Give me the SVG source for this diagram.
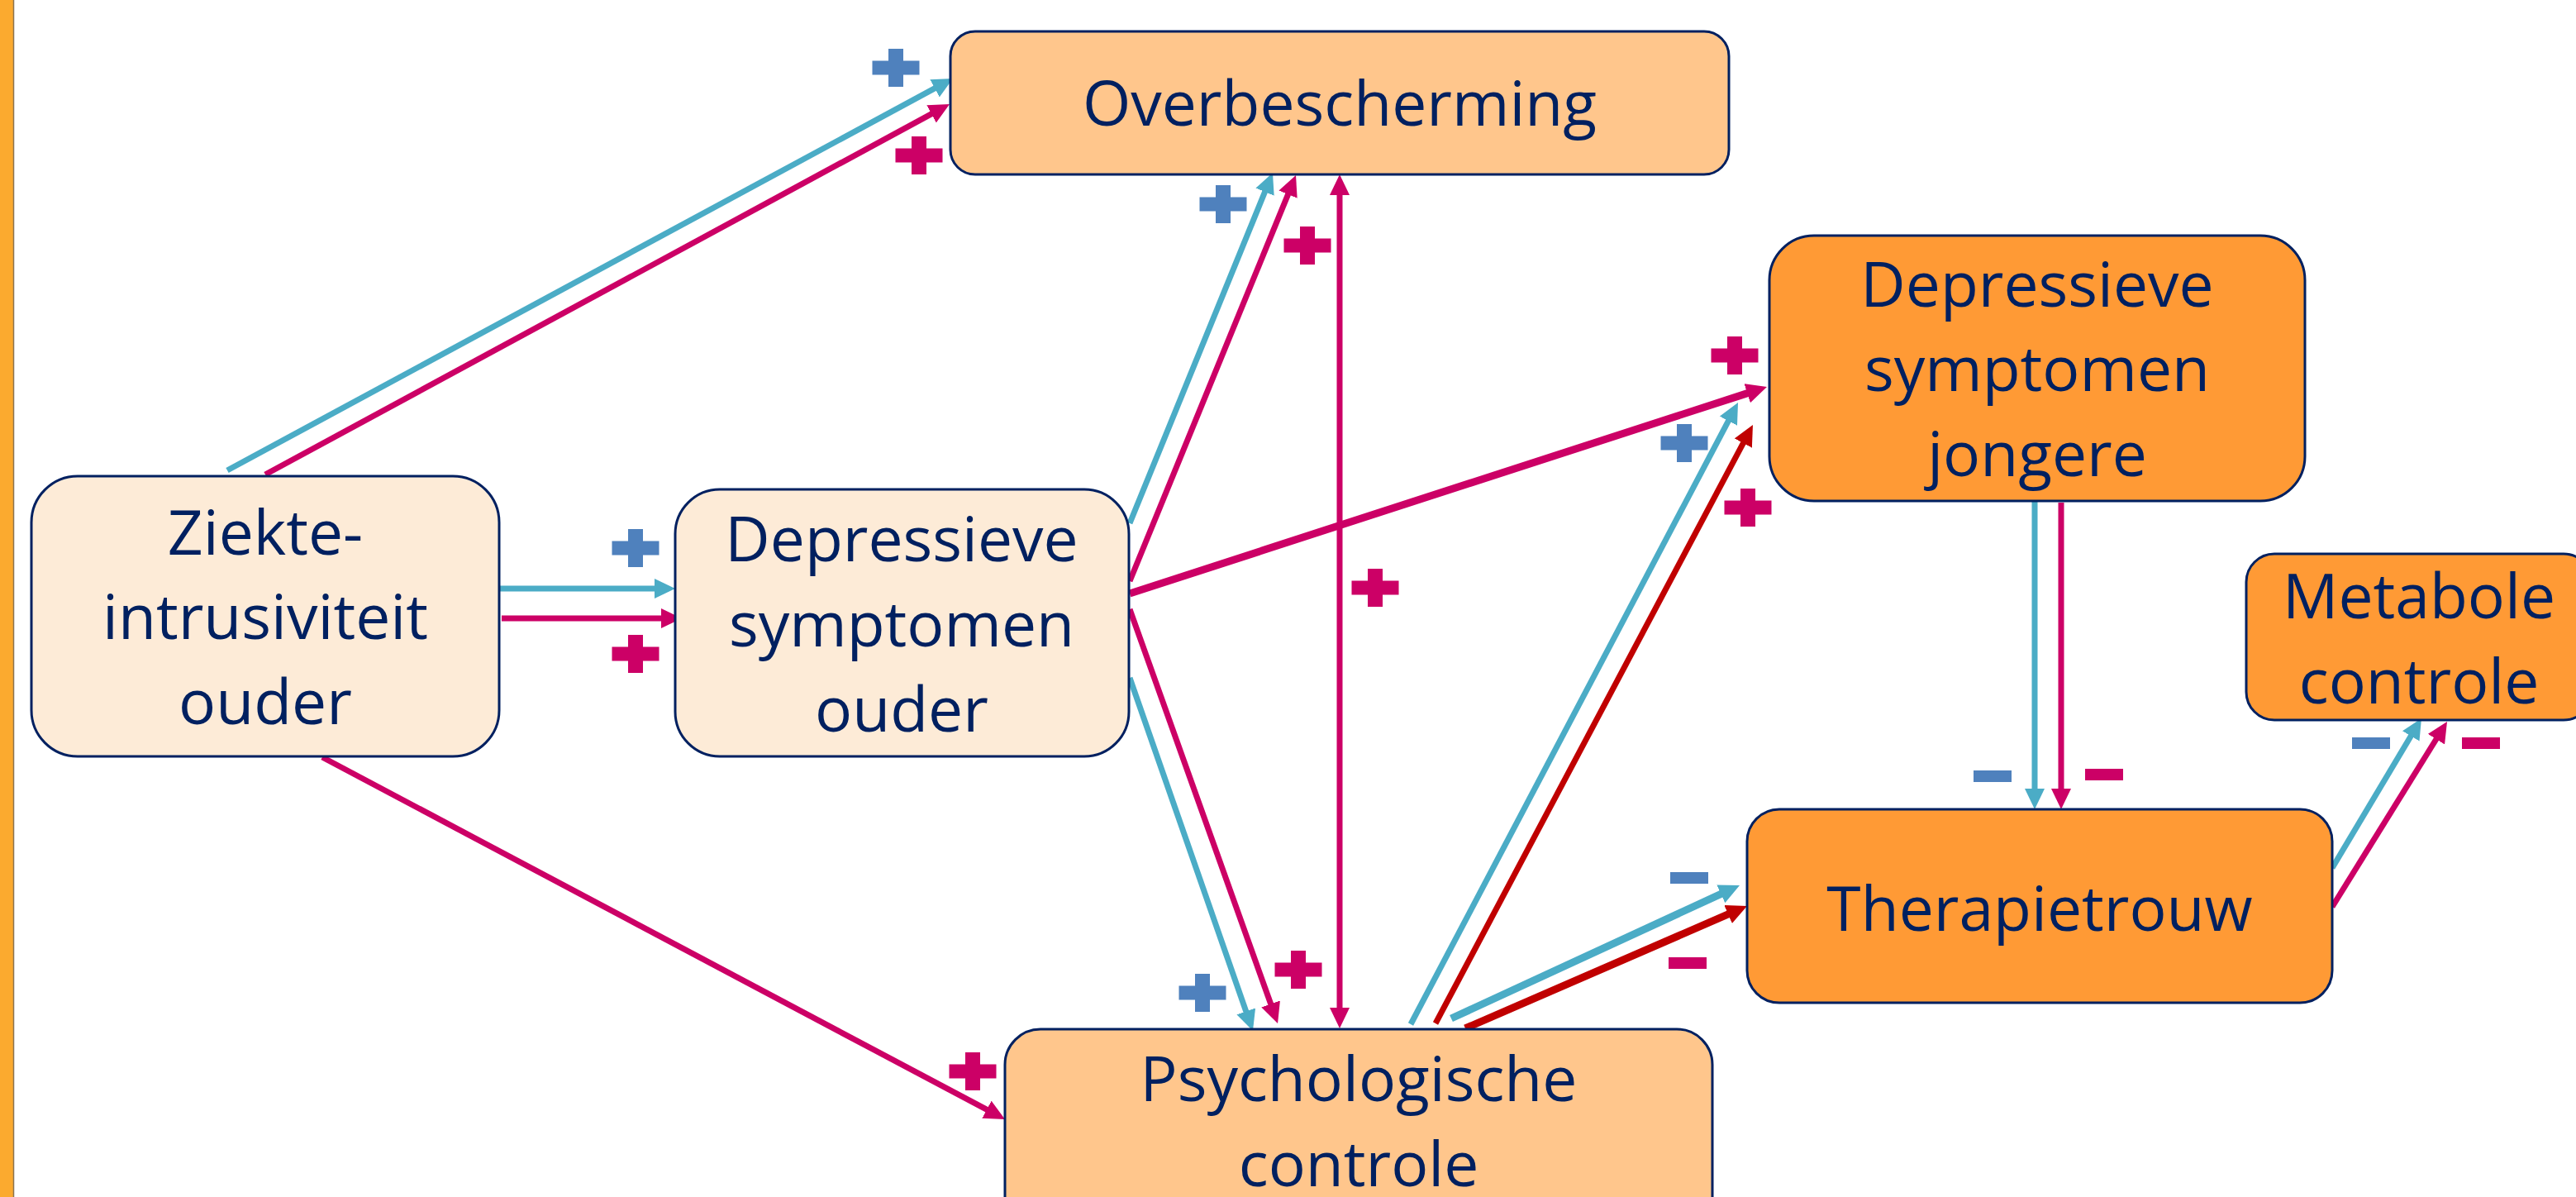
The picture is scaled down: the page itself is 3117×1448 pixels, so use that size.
<svg xmlns="http://www.w3.org/2000/svg" width="3117" height="1448" viewBox="0 0 3117 1448">
<style>
.box{stroke:#002060;stroke-width:3}
.l1{fill:#FDEBD7}
.l2{fill:#FFC68C}
.l3{fill:#FF9A35}
.t{font-family:"Open Sans","Noto Sans","Liberation Sans",sans-serif;font-size:75px;fill:#002060;text-anchor:middle}
.c{fill:none;stroke-linecap:butt}
.teal{stroke:#4BACC6}
.mag{stroke:#CC0066}
.red{stroke:#C00000}
.w7{stroke-width:7}
.w9{stroke-width:9}
.pb{fill:#4F81BD}
.pm{fill:#CC0066}
</style>
<defs>
<marker id="aT" markerUnits="userSpaceOnUse" markerWidth="30" markerHeight="30" refX="2" refY="12" orient="auto"><path d="M0,0 L25,12 L0,24 z" fill="#4BACC6"/></marker>
<marker id="aM" markerUnits="userSpaceOnUse" markerWidth="30" markerHeight="30" refX="2" refY="12" orient="auto"><path d="M0,0 L25,12 L0,24 z" fill="#CC0066"/></marker>
<marker id="aMs" markerUnits="userSpaceOnUse" markerWidth="30" markerHeight="30" refX="2" refY="12" orient="auto-start-reverse"><path d="M0,0 L25,12 L0,24 z" fill="#CC0066"/></marker>
<marker id="aR" markerUnits="userSpaceOnUse" markerWidth="30" markerHeight="30" refX="2" refY="12" orient="auto"><path d="M0,0 L25,12 L0,24 z" fill="#C00000"/></marker>
<path id="plus" d="M-9,-23h18v14.5h19.5v17h-19.5v14.5h-18v-14.5h-19.5v-17h19.5z"/>
</defs>
<rect x="0" y="0" width="3117" height="1448" fill="#FFFFFF"/>
<rect x="0" y="0" width="16" height="1448" fill="#FBAA2F"/>
<line x1="16.5" y1="0" x2="16.5" y2="1448" stroke="#8a7350" stroke-width="1.5"/>

<g id="connectors">
<line class="c teal w7" x1="275" y1="569" x2="1132.8" y2="105.9" marker-end="url(#aT)"/>
<line class="c mag w7" x1="321" y1="574" x2="1128.8" y2="136.9" marker-end="url(#aM)"/>
<line class="c teal w7" x1="604" y1="712" x2="794" y2="712" marker-end="url(#aT)"/>
<line class="c mag w7" x1="607" y1="748" x2="802" y2="748" marker-end="url(#aM)"/>
<line class="c mag w7" x1="390" y1="916" x2="1195.7" y2="1343.2" marker-end="url(#aM)"/>
<line class="c teal w7" x1="1367" y1="633" x2="1531.3" y2="230.3" marker-end="url(#aT)"/>
<line class="c mag w7" x1="1367" y1="703" x2="1559.3" y2="233.3" marker-end="url(#aM)"/>
<line class="c mag w7" x1="1621" y1="1221" x2="1621" y2="234" marker-start="url(#aMs)" marker-end="url(#aMs)"/>
<line class="c mag w9" x1="1367" y1="718" x2="2116.1" y2="475.1" marker-end="url(#aM)"/>
<line class="c teal w7" x1="1367" y1="820" x2="1508.4" y2="1225.3" marker-end="url(#aT)"/>
<line class="c mag w7" x1="1367" y1="737" x2="1538.3" y2="1216.3" marker-end="url(#aM)"/>
<line class="c teal w7" x1="1707" y1="1239" x2="2092.3" y2="507.4" marker-end="url(#aT)"/>
<line class="c red w7" x1="1737" y1="1238" x2="2110.2" y2="534.3" marker-end="url(#aR)"/>
<line class="c teal w9" x1="1756" y1="1232" x2="2084.1" y2="1080.6" marker-end="url(#aT)"/>
<line class="c red w9" x1="1773" y1="1244" x2="2092.9" y2="1105.2" marker-end="url(#aR)"/>
<line class="c teal w7" x1="2462" y1="606" x2="2462" y2="956" marker-end="url(#aT)"/>
<line class="c mag w7" x1="2494" y1="608" x2="2494" y2="956" marker-end="url(#aM)"/>
<line class="c teal w7" x1="2822" y1="1050" x2="2918.2" y2="888.7" marker-end="url(#aT)"/>
<line class="c mag w7" x1="2822" y1="1097" x2="2948.9" y2="892.5" marker-end="url(#aM)"/>
</g>

<g id="signs">
<use href="#plus" class="pb" x="1084" y="82"/>
<use href="#plus" class="pm" x="1112" y="188"/>
<use href="#plus" class="pb" x="769" y="663"/>
<use href="#plus" class="pm" x="769" y="791"/>
<use href="#plus" class="pm" x="1177" y="1296"/>
<use href="#plus" class="pb" x="1480" y="247"/>
<use href="#plus" class="pm" x="1582" y="297"/>
<use href="#plus" class="pm" x="1664" y="711"/>
<use href="#plus" class="pm" x="2099" y="430"/>
<use href="#plus" class="pb" x="1455" y="1201"/>
<use href="#plus" class="pm" x="1571" y="1173"/>
<use href="#plus" class="pb" x="2038" y="536"/>
<use href="#plus" class="pm" x="2115" y="614"/>
<rect class="pb" x="2021" y="1055" width="46" height="14"/>
<rect class="pm" x="2019" y="1158" width="46" height="14"/>
<rect class="pb" x="2388" y="932" width="46" height="14"/>
<rect class="pm" x="2523" y="930" width="46" height="14"/>
<rect class="pb" x="2846" y="892" width="46" height="14"/>
<rect class="pm" x="2979" y="892" width="46" height="14"/>
</g>

<g id="overbescherming">
<rect class="box l2" x="1150" y="38" width="942" height="173" rx="30" ry="30"/>
<text class="t" x="1621" y="152">Overbescherming</text>
</g>
<g id="ziekte-intrusiviteit-ouder">
<rect class="box l1" x="38" y="576" width="566" height="339" rx="56" ry="56"/>
<text class="t" x="321" y="671">Ziekte-</text>
<text class="t" x="321" y="773">intrusiviteit</text>
<text class="t" x="321" y="876">ouder</text>
</g>
<g id="depressieve-symptomen-ouder">
<rect class="box l1" x="817" y="592" width="549" height="323" rx="54" ry="54"/>
<text class="t" x="1091" y="679">Depressieve</text>
<text class="t" x="1091" y="782">symptomen</text>
<text class="t" x="1091" y="885">ouder</text>
</g>
<g id="psychologische-controle">
<rect class="box l2" x="1216" y="1245" width="856" height="260" rx="43" ry="43"/>
<text class="t" x="1644" y="1332">Psychologische</text>
<text class="t" x="1644" y="1435">controle</text>
</g>
<g id="depressieve-symptomen-jongere">
<rect class="box l3" x="2141" y="285" width="648" height="321" rx="54" ry="54"/>
<text class="t" x="2465" y="371">Depressieve</text>
<text class="t" x="2465" y="473">symptomen</text>
<text class="t" x="2465" y="576">jongere</text>
</g>
<g id="metabole-controle">
<rect class="box l3" x="2718" y="670" width="418" height="201" rx="34" ry="34"/>
<text class="t" x="2927" y="748">Metabole</text>
<text class="t" x="2927" y="851">controle</text>
</g>
<g id="therapietrouw">
<rect class="box l3" x="2114" y="979" width="708" height="234" rx="39" ry="39"/>
<text class="t" x="2468" y="1126">Therapietrouw</text>
</g>
</svg>
